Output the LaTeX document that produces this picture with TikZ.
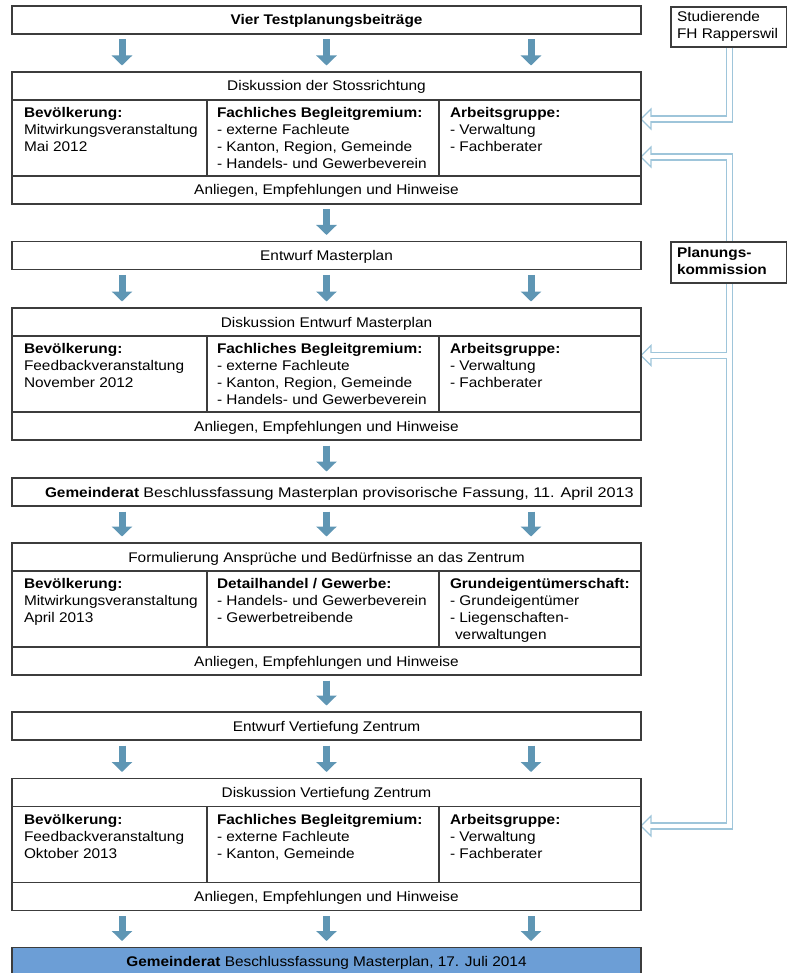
\documentclass[tikz,border=0pt]{standalone}
\usepackage{fontspec}
\setmainfont{Liberation Sans}[FakeStretch=1.1]
\usetikzlibrary{arrows.meta,calc,backgrounds}
\definecolor{boxline}{HTML}{3C3C3C}
\definecolor{arrowc}{HTML}{5F96B4}
\definecolor{holc}{HTML}{9EC5DA}
\definecolor{finalc}{HTML}{6C9ED6}
\begin{document}
\begin{tikzpicture}[x=1pt,y=-1pt,
  font=\fontsize{14}{17}\selectfont,
  box/.style={draw=boxline,line width=1.4pt,inner sep=0pt,outer sep=0pt,minimum width=629pt,minimum height=28pt,text height=10pt,text depth=0pt},
  cell/.style={draw=boxline,line width=1.4pt,inner sep=0pt,outer sep=0pt,minimum height=76pt},
  txt/.style={anchor=north west,align=left,inner sep=0pt,outer sep=0pt},
  barrow/.style={draw=arrowc,line width=7pt,-{Triangle[width=20pt,length=10pt]},shorten <=5.5pt,shorten >=6.5pt},
  hol/.style={draw=holc,line width=7.2pt},
  holin/.style={draw=white,line width=4.8pt},
  holhead/.style={draw=holc,line width=1.2pt,fill=white,line join=miter},
  side/.style={draw=boxline,line width=1.4pt,fill=white,inner sep=0pt,outer sep=0pt,minimum width=115.5pt}
]
\useasboundingbox (0,0) rectangle (787,973);

% ---------- main column ----------
\node[box] (v) at (326.5,20) {\textbf{Vier Testplanungsbeiträge}};

% block 1
\node[box] (b1t) at (326.5,86) {Diskussion der Stossrichtung};
\node[cell,minimum width=195pt] (b1a) at (109.5,138) {};
\node[cell,minimum width=232pt] (b1c) at (323,138) {};
\node[cell,minimum width=202pt] (b1d) at (540,138) {};
\node[box] (b1b) at (326.5,190) {Anliegen, Empfehlungen und Hinweise};
\node[txt] (b1at) at ($(b1a.north west)+(12,5.5)$) {\rule{0pt}{12pt}\textbf{Bevölkerung:}\\Mitwirkungsveranstaltung\\Mai 2012};
\node[txt] (b1ct) at ($(b1c.north west)+(10,5.5)$) {\rule{0pt}{12pt}\textbf{Fachliches Begleitgremium:}\\- externe Fachleute\\- Kanton, Region, Gemeinde\\- Handels- und Gewerbeverein};
\node[txt] (b1dt) at ($(b1d.north west)+(11,5.5)$) {\rule{0pt}{12pt}\textbf{Arbeitsgruppe:}\\- Verwaltung\\- Fachberater};

\node[box] (em) at (326.5,255.5) {Entwurf Masterplan};

% block 2
\node[box] (b2t) at (326.5,322) {Diskussion Entwurf Masterplan};
\node[cell,minimum width=195pt] (b2a) at (109.5,374) {};
\node[cell,minimum width=232pt] (b2c) at (323,374) {};
\node[cell,minimum width=202pt] (b2d) at (540,374) {};
\node[box] (b2b) at (326.5,426) {Anliegen, Empfehlungen und Hinweise};
\node[txt] (b2at) at ($(b2a.north west)+(12,5.5)$) {\rule{0pt}{12pt}\textbf{Bevölkerung:}\\Feedbackveranstaltung\\November 2012};
\node[txt] (b2ct) at ($(b2c.north west)+(10,5.5)$) {\rule{0pt}{12pt}\textbf{Fachliches Begleitgremium:}\\- externe Fachleute\\- Kanton, Region, Gemeinde\\- Handels- und Gewerbeverein};
\node[txt] (b2dt) at ($(b2d.north west)+(11,5.5)$) {\rule{0pt}{12pt}\textbf{Arbeitsgruppe:}\\- Verwaltung\\- Fachberater};

\node[box] (gr) at (326.5,492) {};
\node[anchor=west,inner sep=0pt,outer sep=0pt,text height=10pt,text depth=0pt] (grt) at ([xshift=33pt]gr.west) {\textbf{Gemeinderat} \scalebox{1.05}[1]{Beschlussfassung Masterplan provisorische Fassung, 11. April 2013}};

% block 3
\node[box] (b3t) at (326.5,557) {Formulierung Ansprüche und Bedürfnisse an das Zentrum};
\node[cell,minimum width=195pt] (b3a) at (109.5,609) {};
\node[cell,minimum width=232pt] (b3c) at (323,609) {};
\node[cell,minimum width=202pt] (b3d) at (540,609) {};
\node[box] (b3b) at (326.5,661) {Anliegen, Empfehlungen und Hinweise};
\node[txt] (b3at) at ($(b3a.north west)+(12,5.5)$) {\rule{0pt}{12pt}\textbf{Bevölkerung:}\\Mitwirkungsveranstaltung\\April 2013};
\node[txt] (b3ct) at ($(b3c.north west)+(10,5.5)$) {\rule{0pt}{12pt}\textbf{Detailhandel / Gewerbe:}\\- Handels- und Gewerbeverein\\- Gewerbetreibende};
\node[txt] (b3dt) at ($(b3d.north west)+(11,5.5)$) {\rule{0pt}{12pt}\textbf{Grundeigentümerschaft:}\\- Grundeigentümer\\- Liegenschaften-\\\hspace*{5pt}verwaltungen};

\node[box] (ev) at (326.5,726) {Entwurf Vertiefung Zentrum};

% block 4
\node[box] (b4t) at (326.5,792.5) {Diskussion Vertiefung Zentrum};
\node[cell,minimum width=195pt] (b4a) at (109.5,844.5) {};
\node[cell,minimum width=232pt] (b4c) at (323,844.5) {};
\node[cell,minimum width=202pt] (b4d) at (540,844.5) {};
\node[box] (b4b) at (326.5,896.5) {Anliegen, Empfehlungen und Hinweise};
\node[txt] (b4at) at ($(b4a.north west)+(12,5.5)$) {\rule{0pt}{12pt}\textbf{Bevölkerung:}\\Feedbackveranstaltung\\Oktober 2013};
\node[txt] (b4ct) at ($(b4c.north west)+(10,5.5)$) {\rule{0pt}{12pt}\textbf{Fachliches Begleitgremium:}\\- externe Fachleute\\- Kanton, Gemeinde};
\node[txt] (b4dt) at ($(b4d.north west)+(11,5.5)$) {\rule{0pt}{12pt}\textbf{Arbeitsgruppe:}\\- Verwaltung\\- Fachberater};

\node[box,fill=finalc] (fin) at (326.5,961.5) {\textbf{Gemeinderat} Beschlussfassung Masterplan, 17. Juli 2014};

% ---------- side boxes ----------
\node[side,minimum height=40pt] (stud) at (728.75,27) {};
\node[txt] (studt) at ($(stud.north west)+(6,3)$) {\rule{0pt}{12pt}Studierende\\FH Rapperswil};
\node[side,minimum height=41pt] (plan) at (728.75,262.5) {};
\node[txt] (plant) at ($(plan.north west)+(6,3.5)$) {\rule{0pt}{12pt}\textbf{Planungs-}\\\textbf{kommission}};

% ---------- block arrows ----------
\foreach \dx in {-204.5,0,204.5}{
  \draw[barrow] ([xshift=\dx pt]v.south) -- ([xshift=\dx pt]b1t.north);
  \draw[barrow] ([xshift=\dx pt]em.south) -- ([xshift=\dx pt]b2t.north);
  \draw[barrow] ([xshift=\dx pt]gr.south) -- ([xshift=\dx pt]b3t.north);
  \draw[barrow] ([xshift=\dx pt]ev.south) -- ([xshift=\dx pt]b4t.north);
  \draw[barrow] ([xshift=\dx pt]b4b.south) -- ([xshift=\dx pt]fin.north);
}
\draw[barrow] (b1b.south) -- (em.north);
\draw[barrow] (b2b.south) -- (gr.north);
\draw[barrow] (b3b.south) -- (ev.north);

% ---------- hollow connectors ----------
\begin{scope}[on background layer]
  \coordinate (sp) at ([xshift=1pt]stud.south);
  \coordinate (h1) at ($(b1d.east)+(0,-19)$);
  \coordinate (h2) at ($(b1d.east)+(0,19)$);
  \coordinate (h3) at ($(b2d.east)+(0,-18.5)$);
  \coordinate (h4) at ($(b4d.east)+(0,-18.5)$);
  \foreach \h in {h1,h2,h3,h4}{
    \draw[holhead] (\h) -- ++(10,-10) -- ++(0,20) -- cycle;
  }
  \draw[hol] (sp) |- ([xshift=10pt]h1);
  \draw[hol] ([xshift=10pt]h2) -| (h4 -| sp) -- ([xshift=10pt]h4);
  \draw[hol] (h3 -| sp) -- ([xshift=10pt]h3);
  \draw[holin] ([yshift=-0.8pt]sp) |- ([xshift=9pt]h1);
  \draw[holin] ([xshift=9pt]h2) -| (h4 -| sp) -- ([xshift=9pt]h4);
  \draw[holin] (h3 -| sp) -- ([xshift=9pt]h3);
\end{scope}
\end{tikzpicture}
\end{document}
